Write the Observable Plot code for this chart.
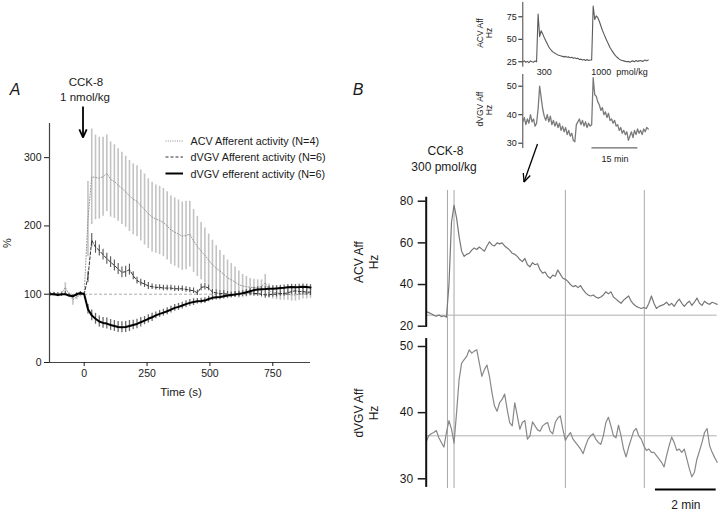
<!DOCTYPE html>
<html><head><meta charset="utf-8">
<script src="https://cdn.jsdelivr.net/npm/d3@7"></script>
<script src="https://cdn.jsdelivr.net/npm/@observablehq/plot@0.6"></script>
<style>
body{margin:0;background:#fff;}
#wrap{position:relative;width:720px;height:512px;overflow:hidden;background:#fff;font-family:"Liberation Sans",Arial,Helvetica,sans-serif;color:#1a1a1a;}
#wrap svg{position:absolute;overflow:visible;}
.t{position:absolute;white-space:pre;transform:translate(-50%,-50%);line-height:1;}
.r{transform:translate(-50%,-50%) rotate(-90deg);}
.l{position:absolute;white-space:pre;transform:translate(0,-50%);line-height:1;}
</style></head><body><div id="wrap"></div>
<script>
// ---------------- DATA: panel A (percent of baseline, 15 s bins from -135 s) ----------------
const aT0 = -135, aStep = 15;
const acvMean = [100,100,99,101,110,99,92,96,99,
  100,210,272,271,270,272,277,268,265,260,
  255,250,244,239,236,230,224,218,213,210,
  208,205,200,194,191,188,185,186,188,178,
  170,163,157,150,143,138,134,129,124,121,
  118,114,112,111,110,110,110,111,117,105,
  103,102,101,100,100,99,99,100,102,101,
  102];
const acvSE = [3,3,3,3,7,3,8,4,3,
  2,55,70,62,60,58,56,55,54,53,
  53,52,52,52,52,52,52,51,51,50,
  50,50,50,50,50,50,50,50,48,46,
  44,42,40,38,36,33,30,28,26,24,
  22,20,17,15,13,12,11,10,12,10,
  10,10,10,9,9,9,9,9,9,8,
  8];
const vgAffMean = [100,100,100,99,101,98,97,99,100,
  100,125,179,169,164,158,152,147,142,137,
  132,133,136,127,120,117,115,112,111,110,
  110,109,109,109,108,108,108,107,106,105,
  102,110,111,109,103,102,101,101,100,99,
  100,100,101,101,102,101,101,100,99,99,
  100,100,101,101,102,104,105,104,104,103,
  103];
const vgAffSE = [2,2,2,2,3,2,2,2,2,
  2,8,10,9,8,8,8,8,8,8,
  8,8,8,6,5,5,5,5,4,4,
  4,4,4,4,4,4,4,4,4,4,
  4,5,5,4,4,4,4,4,4,4,
  4,4,4,4,4,4,4,4,5,4,
  4,4,4,4,4,4,5,5,5,5,
  5];
const vgEffMean = [100,100,99,100,100,98,97,100,102,
  100,78,69,64,60,58,57,55,53.5,52,
  51.5,52,53.5,55,56.5,59,61.3,64,66.2,69,
  71.2,73,75,77.5,80,81.5,83.4,85.5,87.3,88.5,
  89.7,90,90.7,93,94.7,95.5,96,97,98,99,
  99.6,100.5,101.6,103,104.4,106,107,107.3,107.5,108,
  108,108.5,109,109.5,110.3,110.5,110.3,110.5,111,110.5,
  110];
const vgEffSE = [2,2,2,2,2,2,2,2,2,
  2,7,8,8,8,8,8,8,8,8,
  8,8,8,7,7,7,6,6,6,5,
  5,5,5,5,5,5,5,5,5,5,
  4,4,4,4,4,4,4,4,4,4,
  4,4,4,4,4,4,4,4,4,4,
  4,4,4,4,4,4,4,4,4,4,
  4];
const aXDomain = [-138, 900], aYDomain = [0, 350];
const aXTicks = [0, 250, 500, 750], aYTicks = [0, 100, 200, 300];
const aBaseline = 100;
const legendItems = ["ACV Afferent activity (N=4)", "dVGV Afferent activity (N=6)", "dVGV efferent activity (N=6)"];

// ---------------- DATA: panel B inset (Hz, 0.5 min samples) ----------------
const insStep = 0.5;
const insAcv = [25,26,24.5,25.5,24,26,25,24.5,26,25,
  78,53,59.5,56,52,48.5,45,41.5,39,37,
  35.5,34.5,33.5,32.5,32,31.5,31,30.5,31,30,
  30.5,29.5,30,29,29.5,28.5,29,27.5,28,27,
  27.5,26.5,27.5,26.5,27,27,87,72,76,74,
  70,65,60,56,52,48,44.5,41,38,35.5,
  33,31,29.5,28,27,26.5,26,25.5,25,25.5,
  24.5,25.5,26,25,26.5,25.5,26,26.5,25.5,26,
  27,26,27];
const insVgv = [37.5,39,36.5,38.5,37,40,37.5,38.5,36,37,
  42,50,46,42,39.5,38,40,37.5,39.5,36.5,
  38,36,37.5,35.5,37,34.5,36,34,35.5,33,
  34.5,32.5,33.5,31,30.5,36.5,37.5,38.5,36.5,38,
  36,37.5,35.5,37,36,36.5,53,47,46.5,44.5,
  43.5,41.5,42.5,40,41,39,40.5,38,38.5,37,
  38,36,36.5,34.5,35.5,33.5,34.5,33,34,31,
  32.5,34,32,34.5,33,35,33.5,34.5,33,35,
  34,35.5,35];
const insXDomain = [0, 41.4];
const insAcvTicks = [25, 50, 75], insVgvTicks = [30, 40, 50];
const insDoses = [{t: 4.9, label: "300"}, {t: 22.7, label: "1000  pmol/kg"}];
const insScaleBar = {start: 22.6, minutes: 15, label: "15 min"};

// ---------------- DATA: panel B main (Hz, 5 s samples) ----------------
const bStep = 5;
const bAcv = [27,26.5,26,25.2,24.8,25.4,24.6,25,24.3,40,
  70,78,72,63,56,53.5,54.5,55,56.5,57.5,
  56.8,58,57,56,58.5,60.5,59,58.5,60,59.5,
  60,58.5,57.5,56.5,55,54.5,53.5,52,51,52.5,
  49.5,48.5,50.5,49.5,50,47,45.5,46,44,43,
  44.5,44,47,45,43,42.5,41.5,40,39,39.5,
  38.5,39.5,37.5,36,35,34.5,35,34,33.5,34,
  35,36.5,35.5,36.5,34,33,32,31,32.5,33.5,
  34.5,32,30.5,29.5,29,28.5,29,28.5,31,34.5,
  31,28.5,29.5,30,30.5,31.5,30,31,29.5,31.5,
  33,31,29.5,31,32,30,31.5,33.5,31,30,
  32,31,30.5,31.5,31,30.5];
const bVgv = [35.6,36.5,36.8,37,37.3,36.2,35.5,34.8,37,38.8,
  37.5,35.4,40,45,47.5,48,48.5,49.5,49,49.3,
  49.5,47.5,45.5,46.5,47.2,45.5,43,41,40.2,41.5,
  42,42.8,40.5,38.5,38,41.5,39.5,37.5,38.5,38.8,
  36,36.5,38.6,38,37.4,37.2,38,38.3,38.5,37.2,
  36.8,38.5,39.2,39.5,37.5,35.8,36.5,37,36,35.5,
  35,34.5,33.8,35,36,36.5,36.8,36,35.5,35.2,
  36.5,38.5,39.3,38,36.5,36.2,38.1,36.5,34.5,33.3,
  34.8,36,37.2,37.6,36.5,36,35,34.3,34.5,34,
  34,33.5,33,32.5,31.8,33.5,35,36.3,35.5,34.3,
  34.5,34,34.5,33,31.5,30.3,31,33,34.2,35.5,
  37,37.6,35,34,33.2,32.5];
const bXDomain = [0, 575];
const bMarkers = [42, 55, 275, 431];
const bAcvBaseline = 25.3, bVgvBaseline = 36.5;
const bAcvTicks = [20, 40, 60, 80], bVgvTicks = [30, 40, 50];
const bScaleBar = {start: 453, minutes: 2, label: "2 min"};

// ---------------- helpers ----------------
const wrap = document.getElementById("wrap");
const FONT = "'Liberation Sans', Arial, Helvetica, sans-serif";
function sty(size){ return {background:"transparent", fontFamily: FONT, fontSize: size + "px", overflow:"visible", color:"#1a1a1a"}; }
function place(el, left, top){ el.style.position = "absolute"; el.style.left = left + "px"; el.style.top = top + "px"; wrap.appendChild(el); }
function label(text, x, y, o = {}){
  const d = document.createElement("div");
  d.className = o.left ? "l" : ("t" + (o.rot ? " r" : ""));
  d.textContent = text;
  d.style.left = x + "px"; d.style.top = y + "px";
  d.style.fontSize = (o.size || 11) + "px";
  if (o.italic) d.style.fontStyle = "italic";
  wrap.appendChild(d);
}
const rowsA = (mean, se) => mean.map((m, i) => ({t: aT0 + i * aStep, m, lo: m - se[i], hi: m + se[i]}));
const acvRows = rowsA(acvMean, acvSE), affRows = rowsA(vgAffMean, vgAffSE), effRows = rowsA(vgEffMean, vgEffSE);

// ---------------- Panel A ----------------
const plotA = Plot.plot({
  width: 340, height: 410,
  marginLeft: 49, marginRight: 30, marginTop: 123, marginBottom: 48,
  x: {domain: aXDomain}, y: {domain: aYDomain},
  style: sty(10.5),
  marks: [
    Plot.ruleY([aBaseline], {x1: aXDomain[0], x2: aXDomain[1], stroke: "#a0a0a0", strokeDasharray: "3,2", strokeWidth: 0.9}),
    Plot.ruleX(acvRows, {x: "t", y1: "lo", y2: "hi", stroke: "#c3c3c3", strokeWidth: 1.6}),
    Plot.line(acvRows, {x: "t", y: "m", stroke: "#8c8c8c", strokeWidth: 0.9, strokeDasharray: "1,1.8"}),
    Plot.ruleX(affRows, {x: "t", y1: "lo", y2: "hi", stroke: "#555", strokeWidth: 1.1}),
    Plot.line(affRows, {x: "t", y: "m", stroke: "#333", strokeWidth: 1, strokeDasharray: "3,2"}),
    Plot.ruleX(effRows, {x: "t", y1: "lo", y2: "hi", stroke: "#6a6a6a", strokeWidth: 1.3}),
    Plot.line(effRows, {x: "t", y: "m", stroke: "#000", strokeWidth: 2}),
    Plot.ruleX([aXDomain[0]], {y1: aYDomain[0], y2: aYDomain[1], stroke: "#444", strokeWidth: 1.2}),
    Plot.ruleY([aYDomain[0]], {x1: aXDomain[0], x2: aXDomain[1], stroke: "#444", strokeWidth: 1.2}),
    Plot.axisY({ticks: aYTicks, tickSize: 5, tickPadding: 3, label: null}),
    Plot.axisX({ticks: aXTicks, tickSize: 4, tickPadding: 3, label: null})
  ]
});
place(plotA, 0, 0);

// ---------------- Panel B inset ----------------
const insAcvRows = insAcv.map((v, i) => ({t: i * insStep, v}));
const insVgvRows = insVgv.map((v, i) => ({t: i * insStep, v}));
const insUp = Plot.plot({
  width: 360, height: 72, marginLeft: 162.3, marginRight: 71, marginTop: 0, marginBottom: 0,
  x: {domain: insXDomain, axis: null}, y: {domain: [25, 75], range: [61.3, 16.3]},
  style: sty(9),
  marks: [
    Plot.ruleX([insXDomain[0]], {y1: 19, y2: 91, stroke: "#444", strokeWidth: 1}),
    Plot.axisY({ticks: insAcvTicks, tickSize: 4, tickPadding: 2, label: null}),
    Plot.line(insAcvRows, {x: "t", y: "v", stroke: "#5a5a5a", strokeWidth: 1.1})
  ]
});
place(insUp, 360, 0);
const insDn = Plot.plot({
  width: 360, height: 100, marginLeft: 162.3, marginRight: 71, marginTop: 0, marginBottom: 0,
  x: {domain: insXDomain, axis: null}, y: {domain: [30, 50], range: [70.7, 13.7]},
  style: sty(9),
  marks: [
    Plot.ruleX([insXDomain[0]], {y1: 28.1, y2: 54.1, stroke: "#444", strokeWidth: 1}),
    Plot.axisY({ticks: insVgvTicks, tickSize: 4, tickPadding: 2, label: null}),
    Plot.line(insVgvRows, {x: "t", y: "v", stroke: "#7a7a7a", strokeWidth: 1.3}),
    Plot.ruleY([28.35], {x1: insScaleBar.start, x2: insScaleBar.start + insScaleBar.minutes, stroke: "#444", strokeWidth: 1}),
    Plot.text([insScaleBar.label], {x: insScaleBar.start + insScaleBar.minutes / 2, y: 28.35, dy: 11, text: d => d, fontSize: 9})
  ]
});
place(insDn, 360, 72);
// dose labels under upper inset trace
const insDoseLbl = Plot.plot({
  width: 360, height: 20, marginLeft: 162.3, marginRight: 71, marginTop: 0, marginBottom: 0,
  x: {domain: insXDomain, axis: null}, y: {domain: [0, 1], range: [20, 0], axis: null},
  style: sty(9),
  marks: [Plot.text(insDoses, {x: "t", y: 0.5, text: "label", textAnchor: "start", dx: -1})]
});
place(insDoseLbl, 360, 62);

// ---------------- Panel B main ----------------
const bAcvRows = bAcv.map((v, i) => ({t: i * bStep, v}));
const bVgvRows = bVgv.map((v, i) => ({t: i * bStep, v}));
const bUp = Plot.plot({
  width: 360, height: 152, marginLeft: 65.7, marginRight: 3.3, marginTop: 10, marginBottom: 0,
  x: {domain: bXDomain, axis: null}, y: {domain: [20, 80], range: [145.7, 20.7]},
  style: sty(12),
  marks: [
    Plot.ruleX(bMarkers, {stroke: "#a8a8a8", strokeWidth: 1}),
    Plot.ruleY([bAcvBaseline], {x1: bXDomain[0], x2: bXDomain[1], stroke: "#b0b0b0", strokeWidth: 1}),
    Plot.line(bAcvRows, {x: "t", y: "v", stroke: "#777", strokeWidth: 1.2}),
    Plot.ruleX([bXDomain[0]], {y1: 19.4, y2: 81.9, stroke: "#111", strokeWidth: 2}),
    Plot.axisY({ticks: bAcvTicks, tickSize: 8, tickPadding: 5, label: null, strokeWidth: 1.5})
  ]
});
place(bUp, 360, 180);
const bDn = Plot.plot({
  width: 360, height: 180, marginLeft: 65.7, marginRight: 3.3, marginTop: 0, marginBottom: 24,
  x: {domain: bXDomain, axis: null}, y: {domain: [30, 50], range: [146.3, 14]},
  style: sty(12),
  marks: [
    Plot.ruleX(bMarkers, {stroke: "#a8a8a8", strokeWidth: 1}),
    Plot.ruleY([bVgvBaseline], {x1: bXDomain[0], x2: bXDomain[1], stroke: "#b0b0b0", strokeWidth: 1}),
    Plot.line(bVgvRows, {x: "t", y: "v", stroke: "#888", strokeWidth: 1.2}),
    Plot.ruleX([bXDomain[0]], {y1: 28.7, y2: 51.2, stroke: "#111", strokeWidth: 2}),
    Plot.axisY({ticks: bVgvTicks, tickSize: 8, tickPadding: 5, label: null, strokeWidth: 1.5}),
    Plot.ruleY([28.38], {x1: bScaleBar.start, x2: bScaleBar.start + bScaleBar.minutes * 60, stroke: "#000", strokeWidth: 2}),
    Plot.text([bScaleBar.label], {x: bScaleBar.start + bScaleBar.minutes * 30, y: 28.38, dy: 16, text: d => d, fontSize: 12})
  ]
});
place(bDn, 360, 332);

// ---------------- text annotations ----------------
label("A", 15, 90, {size: 16, italic: true});
label("B", 358, 90, {size: 16, italic: true});
label("CCK-8", 86, 82.5, {size: 11.5});
label("1 nmol/kg", 85, 97.5, {size: 11.5});
label("%", 7, 243, {size: 11, rot: true});
label("Time (s)", 181, 393, {size: 11.5});
legendItems.forEach((s, i) => label(s, 190.5, [141, 157, 173.5][i], {size: 10.8, left: true}));
label("CCK-8", 445.5, 151, {size: 12});
label("300 pmol/kg", 444, 166.5, {size: 12});
label("ACV Aff", 480, 33, {size: 8.5, rot: true});
label("Hz", 489, 33, {size: 8.5, rot: true});
label("dVGV Aff", 480, 109, {size: 8.5, rot: true});
label("Hz", 489, 110, {size: 8.5, rot: true});
label("ACV Aff", 359, 262, {size: 12, rot: true});
label("Hz", 374, 262, {size: 12, rot: true});
label("dVGV Aff", 359, 413, {size: 12, rot: true});
label("Hz", 374, 413, {size: 12, rot: true});

// ---------------- overlay: legend swatches and arrows ----------------
const NS = "http://www.w3.org/2000/svg";
const ov = document.createElementNS(NS, "svg");
ov.setAttribute("width", 720); ov.setAttribute("height", 512);
ov.style.left = "0px"; ov.style.top = "0px"; ov.style.pointerEvents = "none";
function ln(x1, y1, x2, y2, stroke, w, dash){
  const l = document.createElementNS(NS, "line");
  l.setAttribute("x1", x1); l.setAttribute("y1", y1); l.setAttribute("x2", x2); l.setAttribute("y2", y2);
  l.setAttribute("stroke", stroke); l.setAttribute("stroke-width", w);
  if (dash) l.setAttribute("stroke-dasharray", dash);
  ov.appendChild(l);
}
ln(165.5, 141, 183, 141, "#8a8a8a", 1, "1,1.3");
ln(165.5, 157, 183, 157, "#333", 1, "3,2");
ln(165.5, 173.5, 183, 173.5, "#000", 2);
function arrow(x1, y1, x2, y2, w){
  ln(x1, y1, x2, y2, "#000", w);
  const a = Math.atan2(y2 - y1, x2 - x1), L = 9, s = 0.42;
  ln(x2, y2, x2 - L * Math.cos(a - s), y2 - L * Math.sin(a - s), "#000", w);
  ln(x2, y2, x2 - L * Math.cos(a + s), y2 - L * Math.sin(a + s), "#000", w);
}
arrow(83, 106.5, 83, 137.5, 1.8);
arrow(537.5, 144, 524, 182, 1.3);
wrap.appendChild(ov);
</script></body></html>
